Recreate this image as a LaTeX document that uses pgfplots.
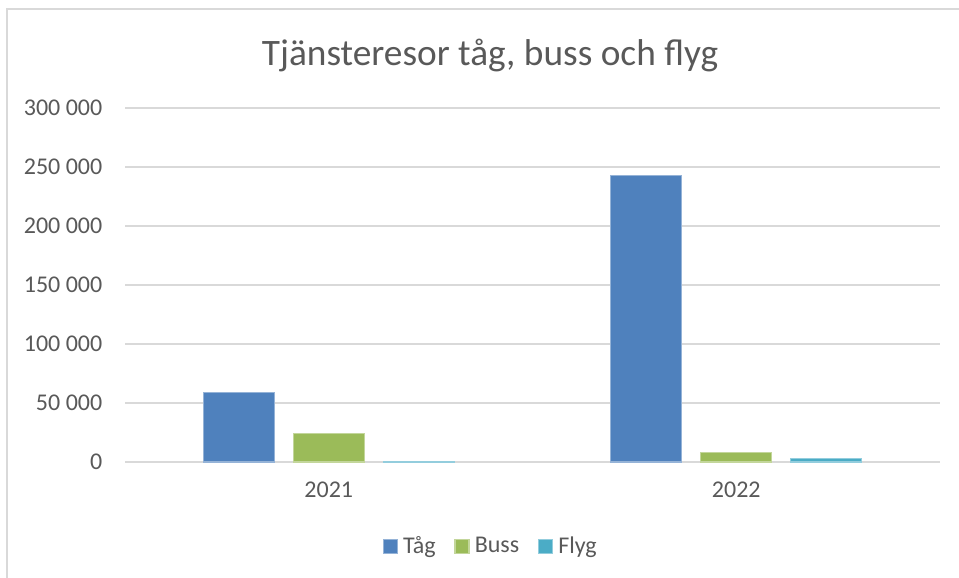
\documentclass[border=0pt]{standalone}
\usepackage{pgfplots}
\pgfplotsset{compat=1.18}
\usepackage{fontspec}
\setmainfont{Carlito}

\definecolor{cTag}{HTML}{4F81BD}
\definecolor{cBuss}{HTML}{9BBB59}
\definecolor{cFlyg}{HTML}{4BACC6}
\definecolor{txt}{HTML}{595959}
\definecolor{gridc}{HTML}{D9D9D9}

\begin{document}
\begin{tikzpicture}
% 1 px of the reference = 0.375pt
\useasboundingbox (0,0) rectangle (359.625pt,216.375pt);
\fill[white] (0,0) rectangle (359.625pt,216.375pt);
\draw[gridc, line width=0.75pt] (2.625pt,-20pt) -- (2.625pt,213pt) -- (380pt,213pt);

\node[txt, font=\fontsize{14}{17}\selectfont] at (183.75pt,195.5pt) {Tjänsteresor tåg, buss och flyg};

\begin{axis}[
    at={(46.875pt,43.125pt)}, anchor=south west,
    scale only axis, width=305.625pt, height=132.75pt,
    ybar, bar width=26.625pt,
    xmin=-0.5, xmax=1.5, ymin=0, ymax=300000,
    xtick={0,1}, xticklabels={2021,2022},
    ytick={0,50000,100000,150000,200000,250000,300000},
    yticklabels={0,50 000,100 000,150 000,200 000,250 000,300 000},
    scaled y ticks=false,
    /pgf/number format/assume math mode=true,
    major tick length=0pt,
    axis line style={draw=none},
    ymajorgrids, xmajorgrids=false, major grid style={gridc, line width=0.75pt},
    tick label style={txt, font=\fontsize{9}{11}\selectfont},
    yticklabel style={xshift=-5pt},
    xticklabel style={yshift=-4pt},
    legend style={at={(0.4508,-0.24)}, anchor=center, draw=none, fill=none,
        font=\fontsize{9}{11}\selectfont, text=txt,
        legend columns=3,
        /tikz/every even column/.append style={column sep=5pt}},
    legend image code/.code={\fill[#1] (0pt,-2.6pt) rectangle (5.25pt,2.65pt);},
    legend cell align=left,
]
\addplot[fill=cTag, draw=cTag!60!white, line width=0.4pt, bar shift=-33.75pt]
    coordinates {(0,58600) (1,242700)};
\addlegendentry{Tåg}
\addplot[fill=cBuss, draw=cBuss!60!white, line width=0.4pt, bar shift=0pt]
    coordinates {(0,24100) (1,7900)};
\addlegendentry{Buss}
\addplot[fill=cFlyg, draw=cFlyg!60!white, line width=0.4pt, bar shift=33.75pt]
    coordinates {(0,700) (1,3100)};
\addlegendentry{Flyg}
\end{axis}
\end{tikzpicture}
\end{document}
